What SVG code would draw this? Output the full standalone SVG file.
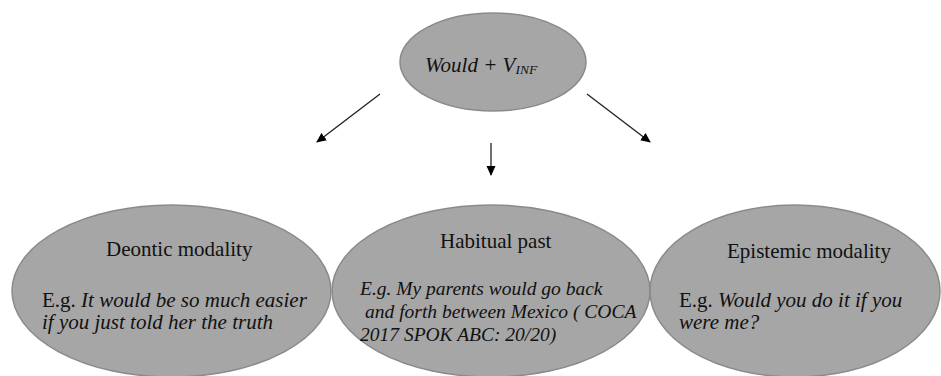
<svg xmlns="http://www.w3.org/2000/svg" width="941" height="376" viewBox="0 0 941 376">
<defs>
<marker id="ah" markerWidth="10" markerHeight="10" refX="9" refY="5" orient="auto" markerUnits="userSpaceOnUse">
<path d="M0,0.5 L10,5 L0,9.5 Z" fill="#000"/>
</marker>
</defs>
<style>
.node{fill:#a6a6a6;stroke:#8a8a8a;stroke-width:1.5}
.t{font-size:21px;fill:#111}
.s{font-size:19.5px}
.i{font-style:italic}
.c{stroke:#222;stroke-width:1.3;fill:none;marker-end:url(#ah)}
</style>
<rect width="941" height="376" fill="#fff"/>
<g id="connectors">
<line class="c" x1="380" y1="94" x2="317" y2="142"/>
<line class="c" x1="587" y1="94" x2="650" y2="142"/>
<line class="c" x1="491" y1="143" x2="491" y2="175"/>
</g>
<g font-family="Liberation Serif, Tinos, Times New Roman, DejaVu Serif, serif">
<g id="root">
<ellipse class="node" cx="493" cy="62" rx="93" ry="49"/>
<text class="t i" x="425" y="72">Would + V<tspan style="font-size:13.5px" dy="2">INF</tspan></text>
</g>
<g id="deontic">
<ellipse class="node" cx="171.5" cy="291" rx="159.5" ry="86"/>
<text class="t" x="106" y="256">Deontic modality</text>
<text class="t" x="42" y="307">E.g. <tspan class="i">It would be so much easier</tspan></text>
<text class="t i" x="42" y="329">if you just told her the truth</text>
</g>
<g id="habitual">
<ellipse class="node" cx="491" cy="291" rx="159" ry="86"/>
<text class="t" x="440" y="248">Habitual past</text>
<text class="t s i" x="360" y="295">E.g. My parents would go back</text>
<text class="t s i" x="365" y="318">and forth between Mexico ( COCA</text>
<text class="t s i" x="360" y="341">2017 SPOK ABC: 20/20)</text>
</g>
<g id="epistemic">
<ellipse class="node" cx="795" cy="291" rx="145" ry="86"/>
<text class="t" x="727" y="258">Epistemic modality</text>
<text class="t" x="679" y="307">E.g. <tspan class="i">Would you do it if you</tspan></text>
<text class="t i" x="679" y="329">were me?</text>
</g>
</g>
</svg>
